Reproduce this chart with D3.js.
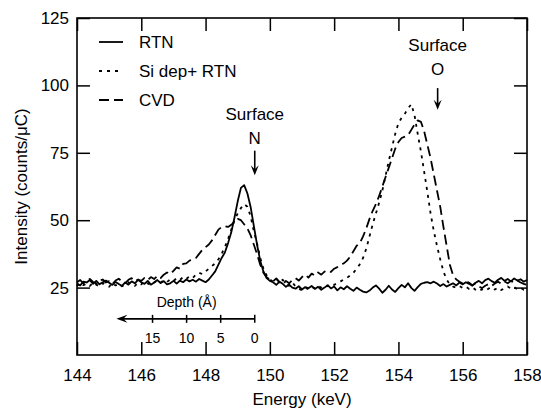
<!DOCTYPE html>
<html>
<head>
<meta charset="utf-8">
<script src="https://cdn.jsdelivr.net/npm/d3@7"></script>
<style>
  body { margin: 0; background: #fff; }
  svg text { font-family: "Liberation Sans", Arial, sans-serif; fill: #000; }
</style>
</head>
<body>
<div class="chart"></div>
<script>
// detector channels, 0.1 keV apart from 144 to 158 keV
const energy = d3.range(141).map((i) => 144 + i / 10);

const rtn = [
  26.5, 25.8, 27.2, 26.9, 27.8, 26.4, 27.5, 26.2, 27.0, 27.6,
  26.8, 26.0, 27.1, 26.3, 25.6, 26.9, 26.1, 27.3, 26.6, 27.9,
  27.0, 26.4, 27.5, 26.1, 26.9, 27.8, 26.7, 27.4, 26.2, 26.6,
  27.5, 26.5, 27.6, 27.0, 28.0, 27.3, 27.9, 27.2, 28.2, 27.6,
  27.0, 28.0, 29.5, 31.0, 33.5, 36.0, 38.0, 41.5, 45.5, 51.0,
  57.0, 62.0, 63.0, 60.0, 55.0, 48.0, 41.0, 35.0, 31.0, 28.5,
  27.5, 27.0, 26.0, 27.2, 26.4, 25.3, 26.1, 25.0, 24.6, 25.5,
  24.3, 25.2, 24.8, 25.6, 24.5, 25.3, 24.2, 25.0, 25.9, 24.7,
  25.4, 24.0, 25.1, 24.4, 25.5, 24.6, 23.8, 25.0, 24.2, 23.5,
  23.2, 23.9, 25.0, 25.8, 24.6, 23.1, 24.2, 25.7, 24.3, 23.4,
  24.8, 26.0, 25.1, 26.6, 24.9, 23.8, 25.2, 26.4, 26.8, 27.0,
  26.6, 27.2, 26.5, 25.6, 26.3, 25.4, 26.0, 26.6, 25.8, 26.9,
  26.2, 27.0, 26.4, 25.7, 26.8, 27.5, 26.6, 27.8, 28.3, 27.4,
  26.8, 27.9, 28.6, 27.5, 28.2, 27.3, 28.4, 27.6, 28.1, 27.2,
  27.8
];

const siDepRtn = [
  25.5, 26.8, 25.9, 26.5, 25.6, 26.9, 26.1, 25.4, 26.6, 26.0,
  25.3, 26.7, 25.8, 26.4, 25.5, 26.2, 27.0, 26.0, 25.6, 26.8,
  26.2, 27.3, 26.5, 25.9, 26.9, 27.6, 26.8, 27.7, 27.1, 28.0,
  27.4, 28.5, 27.8, 28.9, 28.2, 29.2, 28.6, 29.8, 30.5, 30.0,
  31.0, 32.0, 33.0, 34.0, 35.5, 37.5, 40.0, 43.0, 46.5, 50.0,
  52.5, 54.5, 56.0, 55.0, 51.5, 46.0, 41.5, 36.0, 32.0, 29.5,
  28.0, 27.2, 28.3, 26.8, 27.9, 26.5, 25.7, 26.9, 25.4, 24.6,
  24.0, 25.0, 24.4, 25.3, 24.7, 25.6, 25.0, 25.9, 25.5, 26.3,
  26.0, 26.8, 27.3, 28.0, 28.6, 29.5, 30.5, 32.0, 33.7, 36.0,
  39.5, 44.0, 48.5, 52.5, 56.5, 61.0, 66.5, 72.0, 77.0, 82.0,
  86.0, 88.0, 89.5, 91.5, 93.0, 89.0, 82.0, 75.5, 68.0, 60.5,
  52.5, 46.0, 40.5, 35.5, 31.0, 28.0, 26.2, 25.4, 25.0, 25.6,
  24.8, 25.3, 24.5, 25.1, 24.2, 23.6, 24.4, 23.8, 24.6, 25.2,
  24.3, 25.0, 24.1, 24.8, 25.4, 24.6, 25.2, 24.3, 24.9, 24.2,
  24.5
];

const cvd = [
  27.0, 27.8, 26.6, 27.5, 28.2, 27.1, 26.5, 27.7, 28.0, 26.9,
  27.4, 26.3, 27.6, 28.3, 27.2, 26.7, 27.9, 28.5, 27.3, 28.0,
  27.5, 28.6, 27.8, 28.9, 28.2, 29.3, 28.5, 29.8, 30.6, 30.0,
  31.2, 32.5, 32.0, 33.8, 34.0, 35.0, 35.5, 36.0, 37.5, 39.0,
  40.0, 41.0, 42.5, 44.5, 46.5, 47.5, 47.8, 47.5, 48.3, 49.5,
  50.5, 50.0, 48.5, 47.0, 44.5, 41.0, 37.5, 33.5, 30.5, 28.8,
  28.0, 27.3, 28.4, 27.0, 26.2, 27.5, 26.6, 27.8, 28.5, 27.6,
  28.9, 29.8, 28.7, 30.2, 29.4, 30.6, 29.8, 30.9, 31.4, 30.8,
  32.0, 32.6, 33.5, 34.0, 35.0, 36.5, 38.5, 40.5, 41.5, 44.0,
  47.0, 50.5, 53.5, 56.0, 59.0, 62.5, 66.0, 69.5, 73.0, 76.5,
  79.0, 80.5, 81.0, 81.5, 83.5, 85.5, 87.0, 86.5, 83.0, 78.0,
  73.0, 67.0, 61.0, 55.0, 47.5, 40.5, 33.5, 29.5, 28.0, 27.2,
  26.5, 27.4, 26.8, 25.9, 26.6, 25.5, 24.8, 25.7, 26.3, 25.6,
  26.5, 27.2, 26.4, 27.3, 26.6, 27.5, 26.8, 27.6, 26.9, 26.4,
  26.0
];

const seriesNames = ['RTN', 'Si dep+ RTN', 'CVD'];
const xTicks = [144, 146, 148, 150, 152, 154, 156, 158];
const yTicks = [25, 50, 75, 100, 125];
const depthTicks = [0, 5, 10, 15];

function main() {
  const margin = { top: 18, right: 14, bottom: 56, left: 77 },
    width = 541 - margin.left - margin.right,
    height = 411 - margin.top - margin.bottom;

  const x = d3.scaleLinear().domain([144, 158]).range([0, width]);
  const y = d3.scaleLinear().domain([0, 125]).range([height, 0]);

  const svg = d3
    .select('.chart')
    .append('svg')
    .attr('width', width + margin.left + margin.right)
    .attr('height', height + margin.top + margin.bottom)
    .append('g')
    .attr('transform', 'translate(' + margin.left + ',' + margin.top + ')');

  // axes, ticks pointing inward on all four sides
  const bottom = svg
    .append('g')
    .attr('transform', 'translate(0,' + height + ')')
    .call(d3.axisBottom(x).tickValues(xTicks).tickSizeInner(-13).tickSizeOuter(0).tickPadding(14).tickFormat(d3.format('d')));
  const left = svg
    .append('g')
    .call(d3.axisLeft(y).tickValues(yTicks).tickSizeInner(-13).tickSizeOuter(0).tickPadding(8));
  svg.append('g').call(d3.axisTop(x).tickValues(xTicks).tickSizeInner(-13).tickSizeOuter(0).tickFormat(''));
  svg
    .append('g')
    .attr('transform', 'translate(' + width + ',0)')
    .call(d3.axisRight(y).tickValues(yTicks).tickSizeInner(-13).tickSizeOuter(0).tickFormat(''));
  svg.selectAll('.domain').remove();
  svg.selectAll('.tick line').attr('stroke', '#000').attr('stroke-width', 1.5);
  svg.selectAll('.tick text').style('font-size', '17px');

  svg
    .append('rect')
    .attr('width', width)
    .attr('height', height)
    .attr('fill', 'none')
    .attr('stroke', '#000')
    .attr('stroke-width', 1.6);

  svg
    .append('text')
    .attr('x', width / 2)
    .attr('y', height + 50)
    .attr('text-anchor', 'middle')
    .style('font-size', '17px')
    .text('Energy (keV)');

  svg
    .append('text')
    .attr('transform', 'translate(' + (21 - margin.left) + ',' + y(62.5) + ') rotate(-90)')
    .attr('dy', '0.35em')
    .attr('text-anchor', 'middle')
    .style('font-size', '17px')
    .text('Intensity (counts/μC)');

  // spectra
  const dashes = [null, '3,5', '10,5'];
  const series = [rtn, siDepRtn, cvd];
  const line = d3
    .line()
    .x((d, i) => x(energy[i]))
    .y((d) => y(d));

  svg
    .selectAll('.spectrum')
    .data(series)
    .enter()
    .append('path')
    .attr('class', 'spectrum')
    .attr('d', line)
    .attr('fill', 'none')
    .attr('stroke', '#000')
    .attr('stroke-width', 1.8)
    .attr('stroke-linejoin', 'round')
    .attr('stroke-dasharray', (d, i) => dashes[i]);

  // legend
  const legend = svg
    .selectAll('.legend')
    .data(seriesNames)
    .enter()
    .append('g')
    .attr('class', 'legend')
    .attr('transform', (d, i) => 'translate(22,' + (24 + 29 * i) + ')');
  legend
    .append('line')
    .attr('x1', 0)
    .attr('x2', 24)
    .attr('stroke', '#000')
    .attr('stroke-width', 1.8)
    .attr('stroke-dasharray', (d, i) => dashes[i]);
  legend
    .append('text')
    .attr('x', 40)
    .attr('dy', '0.35em')
    .style('font-size', '17px')
    .text((d) => d);

  // surface markers
  const marks = [
    { e: 149.53, label: 'N', textY: 89.5, arrowTop: 75.8, arrowTip: 66.7 },
    { e: 155.22, label: 'O', textY: 114.8, arrowTop: 99.0, arrowTip: 91.0 },
  ];
  marks.forEach((m) => {
    const cx = x(m.e);
    svg
      .append('text')
      .attr('x', cx)
      .attr('y', y(m.textY))
      .attr('dy', '0.35em')
      .attr('text-anchor', 'middle')
      .style('font-size', '17px')
      .text('Surface');
    svg
      .append('text')
      .attr('x', cx)
      .attr('y', y(m.textY) + 24)
      .attr('dy', '0.35em')
      .attr('text-anchor', 'middle')
      .style('font-size', '17px')
      .text(m.label);
    svg
      .append('line')
      .attr('x1', cx)
      .attr('x2', cx)
      .attr('y1', y(m.arrowTop))
      .attr('y2', y(m.arrowTip) - 4)
      .attr('stroke', '#000')
      .attr('stroke-width', 1.6);
    svg
      .append('path')
      .attr('d', 'M' + (cx - 4) + ',' + (y(m.arrowTip) - 10) + 'L' + cx + ',' + y(m.arrowTip) + 'L' + (cx + 4) + ',' + (y(m.arrowTip) - 10) + 'L' + cx + ',' + (y(m.arrowTip) - 6) + 'Z')
      .attr('fill', '#000');
  });

  // depth scale below the nitrogen peak
  const depth = d3.scaleLinear().domain([0, 15]).range([x(149.53), x(146.35)]);
  const dy0 = y(13.4);
  const depthG = svg.append('g');
  const tipX = depth(20.3);
  depthG
    .append('line')
    .attr('x1', depth(0))
    .attr('x2', tipX + 4)
    .attr('y1', dy0)
    .attr('y2', dy0)
    .attr('stroke', '#000')
    .attr('stroke-width', 1.6);
  depthG
    .append('path')
    .attr('d', 'M' + (tipX + 11) + ',' + (dy0 - 4) + 'L' + tipX + ',' + dy0 + 'L' + (tipX + 11) + ',' + (dy0 + 4) + 'L' + (tipX + 7) + ',' + dy0 + 'Z')
    .attr('fill', '#000');
  depthG
    .selectAll('.dtick')
    .data(depthTicks)
    .enter()
    .append('line')
    .attr('x1', (d) => depth(d))
    .attr('x2', (d) => depth(d))
    .attr('y1', dy0 - 4)
    .attr('y2', dy0 + 4)
    .attr('stroke', '#000')
    .attr('stroke-width', 1.5);
  depthG
    .selectAll('.dlabel')
    .data(depthTicks)
    .enter()
    .append('text')
    .attr('x', (d) => depth(d))
    .attr('y', dy0 + 24)
    .attr('text-anchor', 'middle')
    .style('font-size', '14px')
    .text((d) => d);
  depthG
    .append('text')
    .attr('x', depth(10))
    .attr('y', dy0 - 12)
    .attr('text-anchor', 'middle')
    .style('font-size', '14px')
    .text('Depth (Å)');
}
main();
</script>
</body>
</html>
